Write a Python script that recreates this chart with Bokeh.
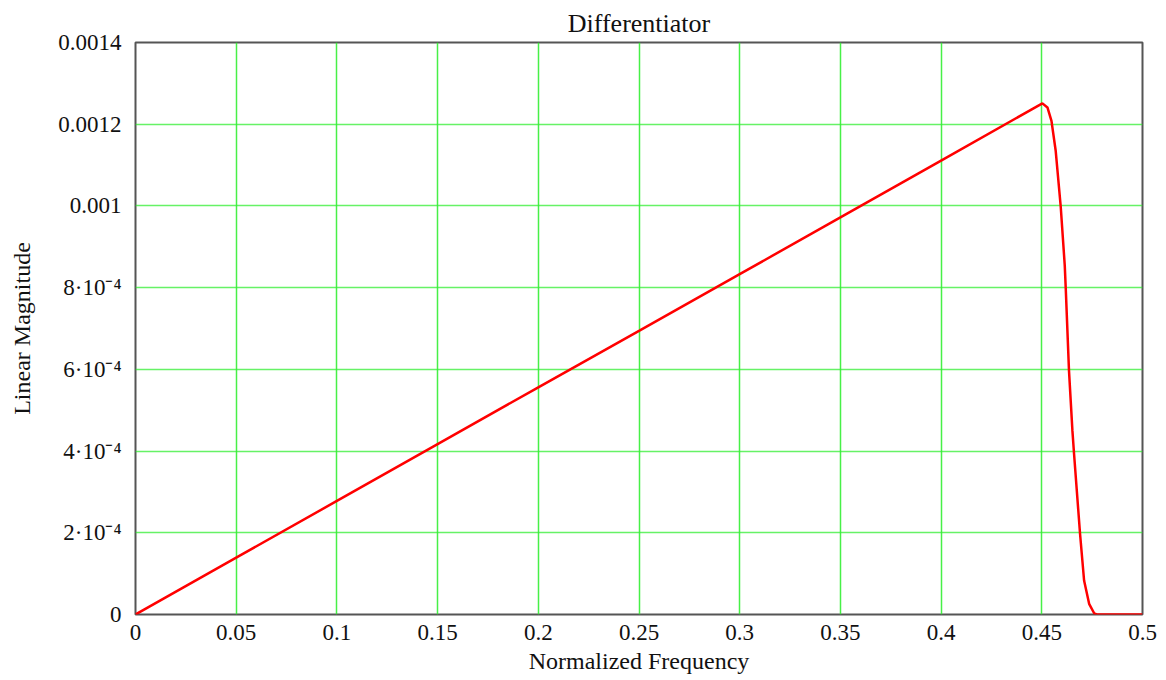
from bokeh.plotting import figure
from bokeh.models import FixedTicker, Range1d
from bokeh.embed import file_html
from bokeh.resources import INLINE

# Data
freq = [0.0, 0.05, 0.10, 0.15, 0.20, 0.25, 0.30, 0.35, 0.40, 0.4503,
        0.4528, 0.4548, 0.4569, 0.4594, 0.4614, 0.4619, 0.4635, 0.4652,
        0.4660, 0.4690, 0.4710, 0.4735, 0.4760, 0.4773, 0.5]
magnitude = [0.0, 0.000139, 0.000278, 0.000417, 0.000556, 0.000694,
             0.000833, 0.000972, 0.001111, 0.001251,
             0.001241, 0.001208, 0.001135, 0.000998, 0.000854, 0.000797,
             0.000597, 0.000450, 0.000394, 0.000197, 0.0000832, 0.0000262,
             0.000003, 0.0, 0.0]

x_ticks = [0.0, 0.05, 0.1, 0.15, 0.2, 0.25, 0.3, 0.35, 0.4, 0.45, 0.5]
x_tick_labels = ["0", "0.05", "0.1", "0.15", "0.2", "0.25", "0.3", "0.35", "0.4", "0.45", "0.5"]
y_ticks = [0.0, 0.0002, 0.0004, 0.0006, 0.0008, 0.001, 0.0012, 0.0014]
y_tick_labels = ["0", "2·10⁻⁴", "4·10⁻⁴", "6·10⁻⁴", "8·10⁻⁴", "0.001", "0.0012", "0.0014"]

title_text = "Differentiator"
x_title = "Normalized Frequency"
y_title = "Linear Magnitude"

FONT = "Liberation Serif"
TXT = "#111111"

p = figure(width=1160, height=680, output_backend="svg", toolbar_location=None,
           x_range=Range1d(0, 0.5), y_range=Range1d(0, 0.0014),
           min_border_left=135, min_border_right=18, min_border_top=42,
           min_border_bottom=66, title=title_text)

p.title.align = "center"
p.title.text_font = FONT
p.title.text_font_size = "26px"
p.title.text_font_style = "normal"
p.title.text_color = TXT
p.title.standoff = 10

p.outline_line_color = "#555555"
p.outline_line_width = 2

for ax in (p.xaxis[0], p.yaxis[0]):
    ax.axis_line_color = None
    ax.major_tick_line_color = None
    ax.minor_tick_line_color = None
    ax.major_label_text_font = FONT
    ax.major_label_text_font_size = "23px"
    ax.major_label_text_color = TXT
    ax.axis_label_text_font = FONT
    ax.axis_label_text_font_size = "24px"
    ax.axis_label_text_font_style = "normal"
    ax.axis_label_text_color = TXT

p.xaxis.ticker = FixedTicker(ticks=x_ticks)
p.xaxis.major_label_overrides = dict(zip(x_ticks, x_tick_labels))
p.xaxis.axis_label = x_title
p.xaxis.major_label_standoff = 4
p.xaxis.axis_label_standoff = 5

p.yaxis.ticker = FixedTicker(ticks=y_ticks)
p.yaxis.major_label_overrides = dict(zip(y_ticks, y_tick_labels))
p.yaxis.axis_label = y_title
p.yaxis.major_label_standoff = 8
p.yaxis.axis_label_standoff = 20

p.xgrid.grid_line_color = "#33ee33"
p.xgrid.grid_line_width = 1.5
p.xgrid.grid_line_alpha = 0.9
p.ygrid.grid_line_color = "#33ee33"
p.ygrid.grid_line_width = 1.5
p.ygrid.grid_line_alpha = 0.75

p.background_fill_color = "white"
p.border_fill_color = "white"

p.line(freq, magnitude, line_color="#ff0000", line_width=2.5)

open("out.html", "w").write(file_html(p, INLINE))
